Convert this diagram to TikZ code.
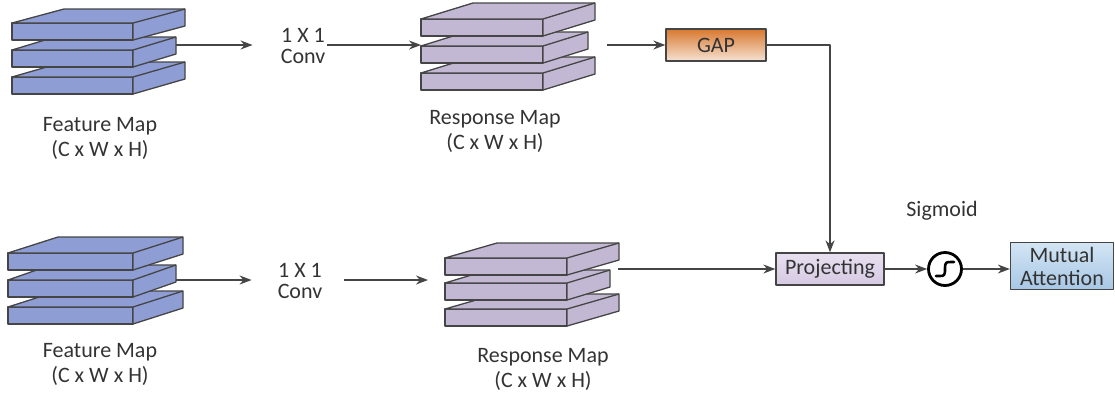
\documentclass[tikz,border=0pt]{standalone}
\usepackage{fontspec}
\setmainfont{Carlito}
\usetikzlibrary{arrows.meta,positioning}

\definecolor{fmblue}{HTML}{8E9DD4}
\definecolor{rmlilac}{HTML}{C3B8D3}
\definecolor{edge}{HTML}{454545}
\definecolor{txt}{HTML}{333333}
\definecolor{gaptop}{HTML}{D8782F}
\definecolor{gapbot}{HTML}{F6E2D2}
\definecolor{projtop}{HTML}{E8E0F0}
\definecolor{projbot}{HTML}{D6C9E3}
\definecolor{atttop}{HTML}{D3E5F4}
\definecolor{attbot}{HTML}{A7C7E5}

% one slab of a stack: x, y (front top-left), width, depth dx, depth dy, fill
\newcommand{\slab}[6]{%
	\filldraw[slabline,fill=#6] (#1,#2) rectangle ++(#3,17);
	\filldraw[slabline,fill=#6] (#1,#2) -- ++(#4,#5) -- ++(#3,0) -- ++(0,17)
		-- (#1+#3,#2+17) -- (#1+#3,#2) -- cycle;
	\draw[slabline] (#1+#3,#2) -- ++(#4,#5);
}

\begin{document}
\begin{tikzpicture}[x=1pt,y=-1pt,line join=round,>={Stealth[length=12pt,width=9pt]},
		font=\fontsize{22}{25}\selectfont,text=txt]
	\tikzset{slabline/.style={draw=edge,line width=1.3pt},
		lbl/.style={align=center,inner sep=1pt},
		conv/.style={align=center,inner sep=2pt,font=\fontsize{22}{21}\selectfont},
		box/.style={draw=edge,line width=1.3pt,minimum width=#1,minimum height=32pt,inner sep=2pt},
		link/.style={draw=edge,line width=1.4pt,->}}
	\useasboundingbox (0,0) rectangle (1115,397);

	% feature maps
	\foreach \y/\dx/\dy in {77/52/-15,50/43/-13,23/52/-14}
		{\slab{12}{\y}{121}{\dx}{\dy}{fmblue}}
	\foreach \y/\dx/\dy in {307/50/-16,280/43/-15,253/50/-16}
		{\slab{8}{\y}{125}{\dx}{\dy}{fmblue}}
	% response maps
	\foreach \y/\dx/\dy in {73/52/-16,46/45/-14,19/52/-16}
		{\slab{421}{\y}{122}{\dx}{\dy}{rmlilac}}
	\foreach \y/\dx/\dy in {309/52/-15,283/43/-13,258/52/-15}
		{\slab{445}{\y}{122}{\dx}{\dy}{rmlilac}}

	\coordinate (fm1out) at (176,45);
	\coordinate (fm2out) at (176,280);
	\coordinate (rm1in) at (421,45);
	\coordinate (rm2in) at (428,280);
	\coordinate (rm1out) at (607,45);
	\coordinate (rm2out) at (618,269);

	\node[lbl] (fm1lbl) at (100,138) {Feature Map\\(C x W x H)};
	\node[lbl] (fm2lbl) at (100,364) {Feature Map\\(C x W x H)};
	\node[lbl] (rm1lbl) at (495,131) {Response Map\\(C x W x H)};
	\node[lbl] (rm2lbl) at (543,369) {Response Map\\(C x W x H)};

	\node[conv] (conv1) at (303,46) {1 X 1\\Conv};
	\node[conv] (conv2) at (300,281) {1 X 1\\Conv};

	\node[box=100pt,top color=gaptop,bottom color=gapbot] (gap) at (716,45) {GAP};
	\node[box=108pt,top color=projtop,bottom color=projbot] (proj) at (830,269) {Projecting};
	\node[draw=black,line width=2.8pt,circle,minimum size=33pt,inner sep=0pt] (sig) at (945,269) {};
	\draw[line width=2.6pt,line cap=round] ([shift={(-9,7)}]sig.center) -- ++(3,0)
		.. controls ++(5,0) and ++(0,7) .. (sig.center)
		.. controls ++(0,-7) and ++(-5,0) .. ([shift={(6,-7)}]sig.center) -- ++(3,0);
	\node[lbl] (siglbl) at (942,211) {Sigmoid};
	\node[box=103pt,minimum height=47pt,align=center,font=\fontsize{22}{23}\selectfont,
		top color=atttop,bottom color=attbot] (att) at (1062,266) {Mutual\\Attention};

	% connectors
	\draw[link,shorten >=26pt] (fm1out) -- (fm1out -| conv1.west);
	\draw[link] (conv1.east |- rm1in) -- (rm1in);
	\draw[link,shorten >=24pt] (fm2out) -- (fm2out -| conv2.west);
	\draw[link,shorten <=20pt] (conv2.east |- rm2in) -- (rm2in);
	\draw[link] (rm1out) -- (gap.west);
	\draw[link] (gap.east) -| (proj.north);
	\draw[link] (rm2out) -- (proj.west);
	\draw[link] (proj.east) -- (sig.west);
	\draw[link] (sig.east) -- (sig.east -| att.west);
\end{tikzpicture}
\end{document}
